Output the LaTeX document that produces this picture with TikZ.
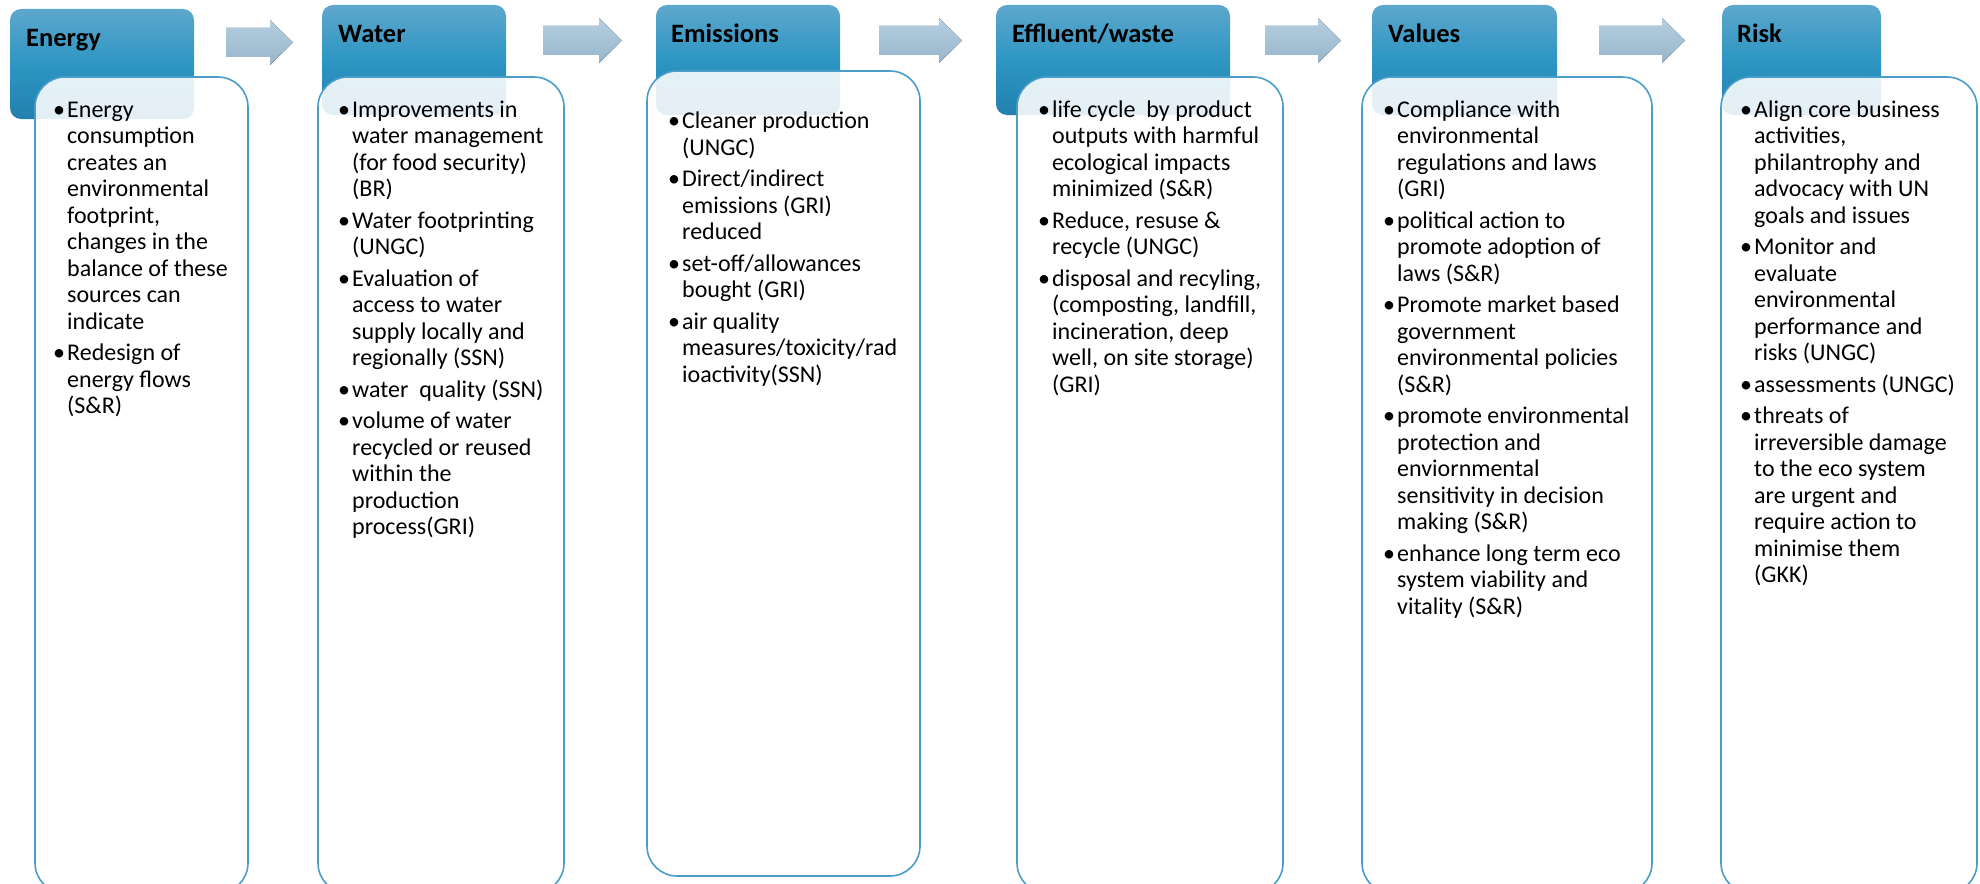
\documentclass[tikz,border=0pt]{standalone}
\usepackage{fontspec}
\setmainfont{Carlito}
\usepackage{array}
\definecolor{hdtop}{HTML}{5EA7CC}
\definecolor{hdmid}{HTML}{2D96C3}
\definecolor{hdbot}{HTML}{2280AE}
\definecolor{artop}{HTML}{B6CFE1}
\definecolor{arbot}{HTML}{97B5CA}
\definecolor{cardline}{HTML}{4A9DC9}
\newcommand{\bodyfont}{\fontsize{24}{26.5}\selectfont}
% bullet list set as a two-column table: bullet, then the lines of text
\newenvironment{blist}{\begin{tabular}[t]{@{}p{14pt}@{}l@{}}}{\end{tabular}}
\newcommand{\bu}{\textbullet}
% block arrow between two stages: left x, right x, centre y
\newcommand{\flowarrow}[3]{%
  \fill[flowarrow] (#1,#3-14.5) -- (#2-23,#3-14.5) -- (#2-23,#3-22.5) -- (#2,#3)
    -- (#2-23,#3+22.5) -- (#2-23,#3+14.5) -- (#1,#3+14.5) -- cycle;}
\begin{document}
\begin{tikzpicture}[x=1pt,y=-1pt,
  headbox/.style={rounded corners=11pt, top color=hdtop, bottom color=hdbot,
    middle color=hdmid, draw=none, inner sep=0pt, outer sep=0pt,
    anchor=north west, minimum height=110pt},
  cardbox/.style={rounded corners=30pt, draw=cardline, line width=1.6pt,
    fill=white, fill opacity=0.88, inner sep=0pt, outer sep=0pt, anchor=north west},
  headtitle/.style={font=\fontsize{26.5}{30}\selectfont\bfseries, inner sep=0pt, anchor=base west},
  bodytext/.style={font=\bodyfont, inner sep=0pt, anchor=base west},
  flowarrow/.style={top color=artop, bottom color=arbot, draw=none}
]
\useasboundingbox (0,0) rectangle (1980,883);

% stage headers
\node[headbox, minimum width=184pt] (hEnergy) at (10,9) {};
\node[headbox, minimum width=184pt] (hWater) at (322,5) {};
\node[headbox, minimum width=184pt] (hEmis) at (656,5) {};
\node[headbox, minimum width=234pt] (hWaste) at (996,5) {};
\node[headbox, minimum width=185pt] (hValues) at (1372,5) {};
\node[headbox, minimum width=159pt] (hRisk) at (1722,5) {};

\node[headtitle] (tEnergy) at (26,47) {Energy};
\node[headtitle] (tWater) at (338,43) {Water};
\node[headtitle] (tEmis) at (671,43) {Emissions};
\node[headtitle] (tWaste) at (1012,43) {Effluent/waste};
\node[headtitle] (tValues) at (1388,43) {Values};
\node[headtitle] (tRisk) at (1737,43) {Risk};

% arrows between stages
\flowarrow{226}{293}{42.5}
\flowarrow{543}{622}{40.5}
\flowarrow{879}{962}{40.5}
\flowarrow{1265}{1341}{40.5}
\flowarrow{1599}{1685}{40.5}

% content cards
\node[cardbox, minimum width=213pt, minimum height=816pt] (cEnergy) at (35,77) {};
\node[cardbox, minimum width=246pt, minimum height=816pt] (cWater) at (318,77) {};
\node[cardbox, minimum width=273pt, minimum height=805pt] (cEmis) at (647,71) {};
\node[cardbox, minimum width=266pt, minimum height=816pt] (cWaste) at (1017,77) {};
\node[cardbox, minimum width=290pt, minimum height=816pt] (cValues) at (1362,77) {};
\node[cardbox, minimum width=256pt, minimum height=816pt] (cRisk) at (1721,77) {};

% card texts
\node[bodytext] (bEnergy) at (53,117) {\begin{blist}
\bu & Energy\\
 & consumption\\
 & creates an\\
 & environmental\\
 & footprint,\\
 & changes in the\\
 & balance of these\\
 & sources can\\
 & indicate\\[5pt]
\bu & Redesign of\\
 & energy flows\\
 & (S\&R)
\end{blist}};

\node[bodytext] (bWater) at (338,117) {\begin{blist}
\bu & Improvements in\\
 & water management\\
 & (for food security)\\
 & (BR)\\[5pt]
\bu & Water footprinting\\
 & (UNGC)\\[5pt]
\bu & Evaluation of\\
 & access to water\\
 & supply locally and\\
 & regionally (SSN)\\[5pt]
\bu & water~~quality (SSN)\\[5pt]
\bu & volume of water\\
 & recycled or reused\\
 & within the\\
 & production\\
 & process(GRI)
\end{blist}};

\node[bodytext] (bEmis) at (668,128.5) {\begin{blist}
\bu & Cleaner production\\
 & (UNGC)\\[5pt]
\bu & Direct/indirect\\
 & emissions (GRI)\\
 & reduced\\[5pt]
\bu & set-off/allowances\\
 & bought (GRI)\\[5pt]
\bu & air quality\\
 & measures/toxicity/rad\\
 & ioactivity(SSN)
\end{blist}};

\node[bodytext] (bWaste) at (1038,117) {\begin{blist}
\bu & life cycle~~by product\\
 & outputs with harmful\\
 & ecological impacts\\
 & minimized (S\&R)\\[5pt]
\bu & Reduce, resuse \&\\
 & recycle (UNGC)\\[5pt]
\bu & disposal and recyling,\\
 & (composting, landfill,\\
 & incineration, deep\\
 & well, on site storage)\\
 & (GRI)
\end{blist}};

\node[bodytext] (bValues) at (1383,117) {\begin{blist}
\bu & Compliance with\\
 & environmental\\
 & regulations and laws\\
 & (GRI)\\[5pt]
\bu & political action to\\
 & promote adoption of\\
 & laws (S\&R)\\[5pt]
\bu & Promote market based\\
 & government\\
 & environmental policies\\
 & (S\&R)\\[5pt]
\bu & promote environmental\\
 & protection and\\
 & enviornmental\\
 & sensitivity in decision\\
 & making (S\&R)\\[5pt]
\bu & enhance long term eco\\
 & system viability and\\
 & vitality (S\&R)
\end{blist}};

\node[bodytext] (bRisk) at (1740,117) {\begin{blist}
\bu & Align core business\\
 & activities,\\
 & philantrophy and\\
 & advocacy with UN\\
 & goals and issues\\[5pt]
\bu & Monitor and\\
 & evaluate\\
 & environmental\\
 & performance and\\
 & risks (UNGC)\\[5pt]
\bu & assessments (UNGC)\\[5pt]
\bu & threats of\\
 & irreversible damage\\
 & to the eco system\\
 & are urgent and\\
 & require action to\\
 & minimise them\\
 & (GKK)
\end{blist}};
\end{tikzpicture}
\end{document}
